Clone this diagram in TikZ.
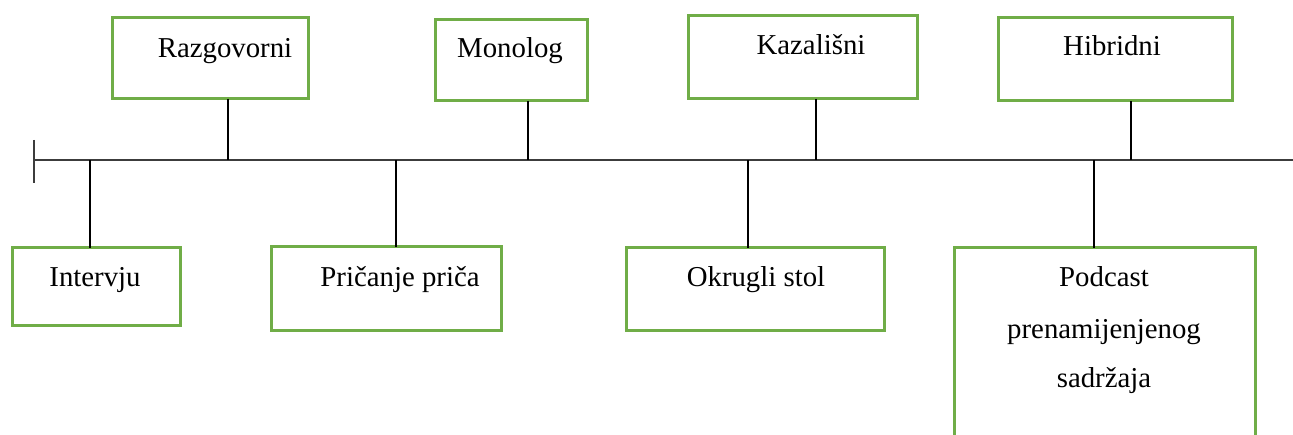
\documentclass[tikz,border=0pt]{standalone}
\usepackage{fontspec}
\setmainfont{Liberation Serif}
\definecolor{boxgreen}{RGB}{112,173,71}
\definecolor{axisgray}{RGB}{60,60,60}
\begin{document}
\begin{tikzpicture}[x=1pt,y=-1pt,
  gbox/.style={draw=boxgreen,line width=3pt,rectangle,inner sep=0pt,outer sep=0pt,anchor=north west},
  obox/.style={rectangle,inner sep=0pt,outer sep=0pt,anchor=north west},
  lbl/.style={font=\fontsize{28.8}{52}\selectfont,inner sep=0pt,anchor=base},
  conn/.style={line width=1.3pt,black},
  axis/.style={line width=1.8pt,axisgray}]
\useasboundingbox (0,0) rectangle (1293,435);
% main line
\coordinate (start) at (34,160);
\coordinate (end) at (1293,160);
\coordinate (tickTop) at (34,140);
\coordinate (tickBot) at (34,183);
\draw[axis] (start) -- (end);
\draw[axis] (tickTop) -- (tickBot);
% attachment points
\coordinate (aR) at (228,160);
\coordinate (aM) at (528,160);
\coordinate (aK) at (816,160);
\coordinate (aH) at (1131,160);
\coordinate (aI) at (90,160);
\coordinate (aP) at (396,160);
\coordinate (aO) at (748,160);
\coordinate (aD) at (1094,160);
% top boxes
\node[gbox,minimum width=196pt,minimum height=81pt] (bR) at (112,18) {};
\node[gbox,minimum width=152pt,minimum height=81pt] (bM) at (435,20) {};
\node[gbox,minimum width=229pt,minimum height=83pt] (bK) at (688,16) {};
\node[gbox,minimum width=234pt,minimum height=83pt] (bH) at (998,18) {};
% bottom boxes
\node[gbox,minimum width=168pt,minimum height=78pt] (bI) at (12,248) {};
\node[gbox,minimum width=230pt,minimum height=84pt] (bP) at (271,247) {};
\node[gbox,minimum width=258pt,minimum height=83pt] (bO) at (626,248) {};
\node[obox,minimum width=301pt,minimum height=200pt] (bD) at (954,248) {};
\draw[draw=boxgreen,line width=3pt] (bD.south west) -- (bD.north west) -- (bD.north east) -- (bD.south east);
% labels
\node[lbl] (tR) at (225,58) {Razgovorni};
\node[lbl] (tM) at (510,58) {Monolog};
\node[lbl] (tK) at (811,55) {Kazališni};
\node[lbl] (tH) at (1112,56) {Hibridni};
\node[lbl] (tI) at (95,287) {Intervju};
\node[lbl] (tP) at (400,287) {Pričanje priča};
\node[lbl] (tO) at (756,287) {Okrugli stol};
\node[lbl] (tD1) at (1104,287) {Podcast};
\node[lbl] (tD2) at (1104,339) {prenamijenjenog};
\node[lbl] (tD3) at (1104,388) {sadržaja};
% connectors
\draw[conn] (bR.south -| aR) -- (aR);
\draw[conn] (bM.south -| aM) -- (aM);
\draw[conn] (bK.south -| aK) -- (aK);
\draw[conn] (bH.south -| aH) -- (aH);
\draw[conn] (bI.north -| aI) -- (aI);
\draw[conn] (bP.north -| aP) -- (aP);
\draw[conn] (bO.north -| aO) -- (aO);
\draw[conn] (bD.north -| aD) -- (aD);
\end{tikzpicture}
\end{document}
